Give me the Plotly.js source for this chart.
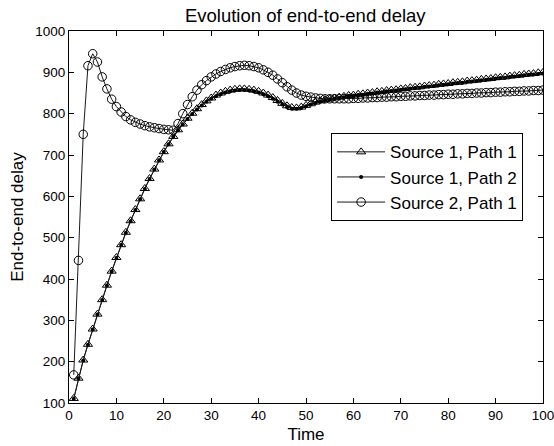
<!DOCTYPE html>
<html>
<head>
<meta charset="utf-8">
<script src="https://cdn.plot.ly/plotly-3.0.1.min.js"></script>
<style>html,body{margin:0;padding:0;background:#fff}#chart{width:554px;height:446px}</style>
</head>
<body>
<div id="chart"></div>
<script>
const seriesNames = ["Source 1, Path 1", "Source 1, Path 2", "Source 2, Path 1"];
const timeSteps = [1,2,3,4,5,6,7,8,9,10,11,12,13,14,15,16,17,18,19,20,21,22,23,24,25,26,27,28,29,30,31,32,33,34,35,36,37,38,39,40,41,42,43,44,45,46,47,48,49,50,51,52,53,54,55,56,57,58,59,60,61,62,63,64,65,66,67,68,69,70,71,72,73,74,75,76,77,78,79,80,81,82,83,84,85,86,87,88,89,90,91,92,93,94,95,96,97,98,99,100];
const s1p1 = [111,160,204,242,279,315,350,385,419,452,483,513,541,568,594,619,643,666,688,708,727,745,761,775,789,801,812,822,831,838,845,850,854,857,859,860,860,859,857,854,850,845,839,832,825,819,815,814,816,820,824,828,831,834,836,838,840,842,844,845,847,848,850,851,853,854,856,857,858,860,861,863,864,865,867,868,869,871,872,873,875,876,877,879,880,881,883,884,885,887,888,889,891,892,893,895,896,897,899,900];
const s1p2 = [110,159,203,241,278,314,349,384,418,451,482,512,540,567,593,618,642,665,687,707,726,744,760,774,787,799,810,820,829,836,842,847,851,854,856,857,857,856,854,851,847,842,836,829,822,816,812,812,814,818,822,826,829,832,834,836,838,840,842,843,845,846,848,849,851,852,854,855,856,858,859,861,862,863,865,866,867,869,870,871,873,874,875,877,878,879,881,882,883,885,886,887,889,890,891,893,894,895,896,897];
const s2p1 = [168,445,750,916,945,925,889,860,835,817,804,793,785,779,775,771,768,766,764,762,761,760,776,800,822,841,857,870,880,889,896,902,907,911,914,916,917,916,914,911,906,900,893,884,875,865,857,850,845,842,840,838,837,836,836,836,836,836,836,837,837,838,838,839,839,840,840,841,841,842,842,843,843,844,844,845,845,846,846,847,847,848,848,849,849,850,850,851,851,852,852,853,853,854,854,855,855,856,856,857];
const xTicks = [0,10,20,30,40,50,60,70,80,90,100];
const yTicks = [100,200,300,400,500,600,700,800,900,1000];

const font = "Liberation Sans, Arial, Helvetica, sans-serif";
const lineColor = "#1a1a1a";
const traces = [
  {x: timeSteps, y: s1p1, name: seriesNames[0], mode: "lines+markers",
   line: {color: lineColor, width: 1},
   marker: {symbol: "triangle-up-open", size: 8, color: "#000", line: {width: 1, color: "#000"}}},
  {x: timeSteps, y: s1p2, name: seriesNames[1], mode: "lines+markers",
   line: {color: lineColor, width: 1},
   marker: {symbol: "circle", size: 4, color: "#000"}},
  {x: timeSteps, y: s2p1, name: seriesNames[2], mode: "lines+markers",
   line: {color: lineColor, width: 1},
   marker: {symbol: "circle-open", size: 8.5, color: "#000", line: {width: 1, color: "#000"}}}
];
const axisCommon = {
  showgrid: false, zeroline: false, showline: true, mirror: "ticks",
  linecolor: "#000", linewidth: 1, ticks: "inside", ticklen: 5, tickcolor: "#000",
  tickfont: {family: font, size: 13.5, color: "#000"}, ticklabeloverflow: "allow"
};
const layout = {
  width: 554, height: 446,
  margin: {l: 69, r: 11, t: 31, b: 43},
  paper_bgcolor: "#fff", plot_bgcolor: "#fff",
  title: {text: "Evolution of end-to-end delay", font: {family: font, size: 18.5, color: "#000"}, x: 0.551, xanchor: "center", y: 0.966, yanchor: "middle"},
  xaxis: Object.assign({}, axisCommon, {range: [0, 100], tickvals: xTicks,
    title: {text: "Time", font: {family: font, size: 17, color: "#000"}, standoff: 5}}),
  yaxis: Object.assign({}, axisCommon, {range: [100, 1000], tickvals: yTicks,
    title: {text: "End-to-end delay", font: {family: font, size: 17, color: "#000"}, standoff: 7}}),
  showlegend: true,
  legend: {x: 0.553, y: 0.725, xanchor: "left", yanchor: "top",
    bgcolor: "#fff", bordercolor: "#000", borderwidth: 1, itemwidth: 48,
    font: {family: font, size: 17, color: "#000"}, tracegroupgap: 0}
};
Plotly.newPlot("chart", traces, layout, {displayModeBar: false, staticPlot: true});
</script>
</body>
</html>
